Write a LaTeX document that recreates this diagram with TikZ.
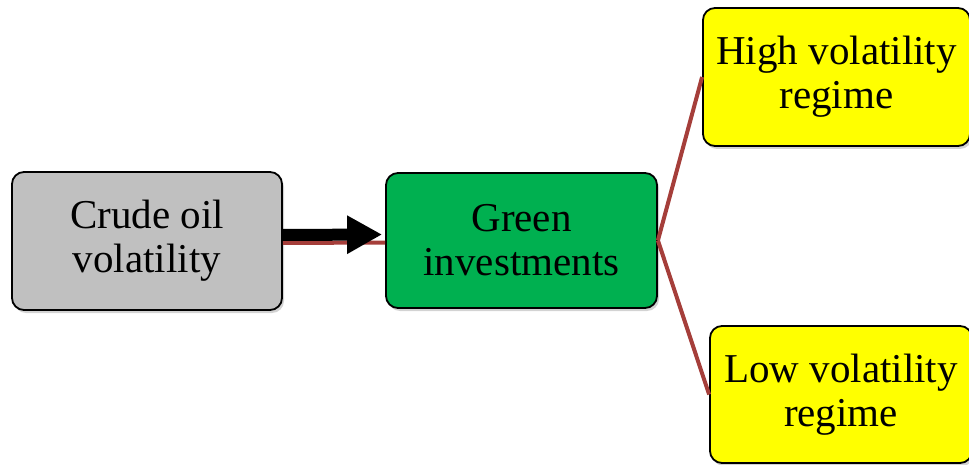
\documentclass[tikz,border=0pt]{standalone}
\usepackage{fontspec}
\setmainfont{Liberation Serif}
\usetikzlibrary{arrows.meta, shadows}
\definecolor{boxgray}{RGB}{192,192,192}
\definecolor{boxgreen}{RGB}{0,176,80}
\definecolor{boxyellow}{RGB}{255,255,0}
\definecolor{linkred}{RGB}{165,62,58}
\begin{document}
\begin{tikzpicture}[x=1pt, y=1pt,
        box/.style={draw=black, line width=1.8pt, rounded corners=12pt, align=center,
            font=\fontsize{41}{44}\selectfont, inner sep=0pt,
            drop shadow={opacity=0.35, shadow xshift=2pt, shadow yshift=-3pt}},
        link/.style={draw=linkred, line width=4pt}]
        \useasboundingbox (0,0) rectangle (969,464);

        \node[box, fill=boxgray, minimum width=270pt, minimum height=138pt] (crude) at (147,223) {Crude oil\\volatility};
        \node[box, fill=boxgreen, minimum width=271pt, minimum height=135pt] (green) at (521.5,223.5) {Green\\investments};
        \node[box, fill=boxyellow, minimum width=267pt, minimum height=138pt] (high) at (836.5,387) {High volatility\\regime};
        \node[box, fill=boxyellow, minimum width=262pt, minimum height=137pt] (low) at (841,69.5) {Low volatility\\regime};

        \draw[link] ([yshift=-2pt]crude.east) -- ([yshift=-2pt]green.west);
        \draw[-{Triangle[length=35pt, width=36pt]}, line width=12pt] ([yshift=6pt]crude.east) -- ([yshift=6pt, xshift=-3pt]green.west);
        \draw[link] (green.east) -- (high.west);
        \draw[link] (green.east) -- (low.west);
\end{tikzpicture}
\end{document}
